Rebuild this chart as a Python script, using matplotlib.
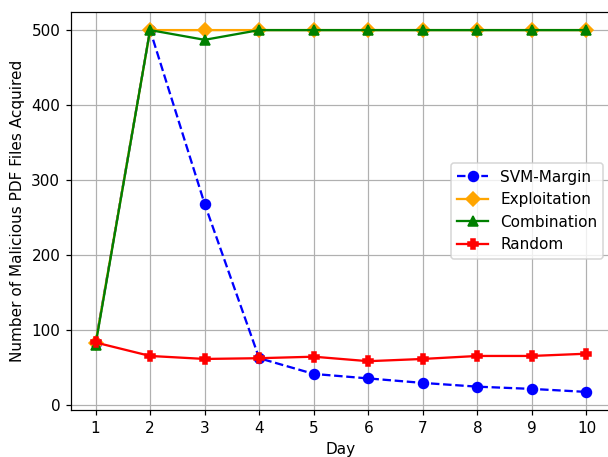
import matplotlib
matplotlib.use("Agg")
import matplotlib.pyplot as plt

days = [1, 2, 3, 4, 5, 6, 7, 8, 9, 10]
svm_margin = [82, 500, 268, 62, 41, 35, 29, 24, 21, 17]
exploitation = [82, 500, 500, 500, 500, 500, 500, 500, 500, 500]
combination = [80, 500, 487, 500, 500, 500, 500, 500, 500, 500]
random_vals = [83, 65, 61, 62, 64, 58, 61, 65, 65, 68]

DPI = 110
fig = plt.figure(figsize=(608/DPI, 457/DPI), dpi=DPI)
ax = fig.add_axes([71/608, 1 - 410/457, (611 - 71)/608, (410 - 12)/457])

ms = 6.5
ax.plot(days, svm_margin, linestyle='--', marker='o', color='blue', label='SVM-Margin', markersize=ms)
ax.plot(days, exploitation, linestyle='-', marker='D', color='orange', label='Exploitation', markersize=ms)
ax.plot(days, combination, linestyle='-', marker='^', color='green', label='Combination', markersize=ms)
ax.plot(days, random_vals, linestyle='-', marker='P', color='red', label='Random', markersize=ms)

ax.set_xticks(days)
ax.set_xlabel('Day')
ax.set_ylabel('Number of Malicious PDF Files Acquired')
ax.grid(True)
ax.legend(loc='center right')

fig.savefig('out.png', dpi=DPI)
